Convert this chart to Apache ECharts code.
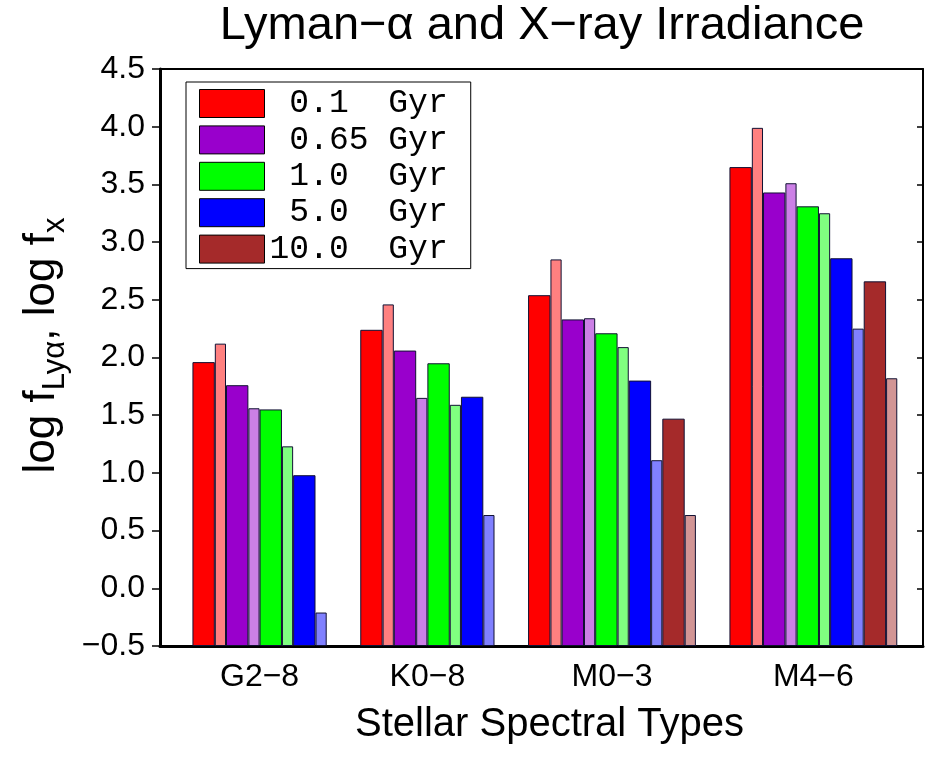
<!DOCTYPE html>
<html>
<head>
<meta charset="utf-8">
<title>Lyman-α and X-ray Irradiance</title>
<script src="https://cdn.jsdelivr.net/npm/echarts@6/dist/echarts.min.js"></script>
<style>
  html, body { margin: 0; padding: 0; background: #fff; }
  #chart { width: 928px; height: 759px; }
</style>
</head>
<body>
<div id="chart"></div>
<script>
// spectral types, in plotting order
const spectralTypes = ['G2−8', 'K0−8', 'M0−3', 'M4−6'];

// stellar ages shown in the legend
const ages = ['0.1', '0.65', '1.0', '5.0', '10.0'];

// log Lyman-alpha flux (wide bars), one value per spectral type
const lya_01 = [1.96, 2.24, 2.54, 3.65];
const lya_065 = [1.76, 2.06, 2.33, 3.43];
const lya_10 = [1.55, 1.95, 2.21, 3.31];
const lya_50 = [0.98, 1.66, 1.80, 2.86];
const lya_100 = [null, null, 1.47, 2.66];

// log X-ray flux (narrow bars)
const xray_01 = [2.12, 2.46, 2.85, 3.99];
const xray_065 = [1.56, 1.65, 2.34, 3.51];
const xray_10 = [1.23, 1.59, 2.09, 3.25];
const xray_50 = [-0.21, 0.635, 1.11, 2.25];
const xray_100 = [null, null, 0.635, 1.82];

const lyaByAge = [lya_01, lya_065, lya_10, lya_50, lya_100];
const xrayByAge = [xray_01, xray_065, xray_10, xray_50, xray_100];

// colours: full tone for Lyman-alpha, half-tone for X-ray
const lyaColors = ['#ff0000', '#9900cc', '#00ff00', '#0000ff', '#a52a2a'];
const xrayColors = ['#ff8080', '#cc80e6', '#80ff80', '#8080ff', '#d29595'];

// x layout, in units of one narrow bar (a wide bar is 2, a pair is 3)
const xMin = 0;
const xMax = 68.2;
const groupStart = [2.9, 17.9, 32.9, 50.9];
const unitPx = (928 - 160 - 5) / (xMax - xMin);

const fontSans = '"Liberation Sans", Arial, Helvetica, sans-serif';
const fontMono = '"Liberation Mono", "Courier New", monospace';

const fmtY = (v) => (v < 0 ? '−' : '') + Math.abs(v).toFixed(1);

// label sits under the middle of the bars actually drawn in each group
const labelPos = spectralTypes.map((t, i) => {
  let pairs = 0;
  lyaByAge.forEach((arr) => { if (arr[i] != null) pairs++; });
  return groupStart[i] + pairs * 3 / 2;
});

// fixed-width legend labels, like the original
const legendText = {
  '0.1 Gyr': ' 0.1  Gyr',
  '0.65 Gyr': ' 0.65 Gyr',
  '1.0 Gyr': ' 1.0  Gyr',
  '5.0 Gyr': ' 5.0  Gyr',
  '10.0 Gyr': '10.0  Gyr',
};

const series = [];
ages.forEach((age, a) => {
  series.push({
    name: age + ' Gyr',
    type: 'bar',
    xAxisIndex: 0,
    yAxisIndex: 0,
    barWidth: unitPx * 2,
    barGap: '-100%',
    itemStyle: { color: lyaColors[a], borderColor: '#111133', borderWidth: 1 },
    data: lyaByAge[a].map((v, i) => [groupStart[i] + a * 3 + 1, v]),
  });
});
ages.forEach((age, a) => {
  series.push({
    name: age + ' Gyr X-ray',
    type: 'bar',
    xAxisIndex: 1,
    yAxisIndex: 0,
    barWidth: unitPx,
    barGap: '-100%',
    itemStyle: { color: xrayColors[a], borderColor: '#111133', borderWidth: 1 },
    data: xrayByAge[a].map((v, i) => [groupStart[i] + a * 3 + 2.5, v]),
  });
});

const chart = echarts.init(document.getElementById('chart'));

const option = {
  backgroundColor: '#fff',
  animation: false,
  title: {
    text: 'Lyman−α and X−ray Irradiance',
    left: 542,
    top: 3,
    padding: 0,
    textAlign: 'center',
    textStyle: { fontFamily: fontSans, fontSize: 47, fontWeight: 'normal', color: '#000' },
  },
  legend: {
    data: ages.map((a) => a + ' Gyr'),
    orient: 'vertical',
    left: 186,
    top: 82,
    padding: [5, 23, 3, 13],
    itemWidth: 65,
    itemHeight: 28,
    itemGap: 3.4,
    borderColor: '#000',
    borderWidth: 1,
    borderRadius: 0,
    icon: 'rect',
    itemStyle: { borderColor: '#000', borderWidth: 1 },
    formatter: (name) => legendText[name],
    textStyle: { fontFamily: fontMono, fontSize: 33, color: '#000' },
  },
  grid: { left: 160, right: 5, top: 69, bottom: 113, containLabel: false },
  xAxis: [
    {
      type: 'value',
      position: 'bottom',
      min: xMin,
      max: xMax,
      name: 'Stellar Spectral Types',
      nameLocation: 'middle',
      nameGap: 59,
      nameTextStyle: { fontFamily: fontSans, fontSize: 40, color: '#000', padding: [0, 0, 0, 16] },
      axisLine: { show: true, onZero: false, lineStyle: { color: '#000', width: 3 } },
      axisTick: { show: false },
      splitLine: { show: false },
      axisLabel: {
        customValues: labelPos,
        margin: 15,
        fontFamily: fontSans,
        fontSize: 32,
        color: '#000',
        formatter: (v) => {
          const i = labelPos.findIndex((p) => Math.abs(p - v) < 1e-6);
          return i >= 0 ? spectralTypes[i] : '';
        },
      },
    },
    {
      type: 'value',
      position: 'top',
      min: xMin,
      max: xMax,
      axisLine: { show: true, onZero: false, lineStyle: { color: '#000', width: 2 } },
      axisTick: { show: false },
      axisLabel: { show: false },
      splitLine: { show: false },
    },
  ],
  yAxis: [
    {
      type: 'value',
      position: 'left',
      min: -0.5,
      max: 4.5,
      interval: 0.5,
      startValue: -0.5,
      name: '{m|log f}{s|Lyα}{m|, log f}{s|x}',
      nameLocation: 'middle',
      nameGap: 88,
      nameTextStyle: {
        color: '#000',
        padding: [0, 0, 0, 24],
        rich: {
          m: { fontFamily: fontSans, fontSize: 44, color: '#000' },
          s: { fontFamily: fontSans, fontSize: 31, color: '#000', padding: [27, 0, 0, 0] },
        },
      },
      axisLine: { show: true, onZero: false, lineStyle: { color: '#000', width: 3 } },
      axisTick: { show: true, inside: false, length: 8, lineStyle: { color: '#000', width: 1.5 } },
      splitLine: { show: false },
      axisLabel: { margin: 15, fontFamily: fontSans, fontSize: 32, color: '#000', formatter: fmtY },
    },
    {
      type: 'value',
      position: 'right',
      min: -0.5,
      max: 4.5,
      interval: 0.5,
      axisLine: { show: true, onZero: false, lineStyle: { color: '#000', width: 2 } },
      axisTick: { show: true, inside: true, length: 6, lineStyle: { color: '#000', width: 1.5 } },
      axisLabel: { show: false },
      splitLine: { show: false },
    },
  ],
  series: series,
};

chart.setOption(option);
</script>
</body>
</html>
